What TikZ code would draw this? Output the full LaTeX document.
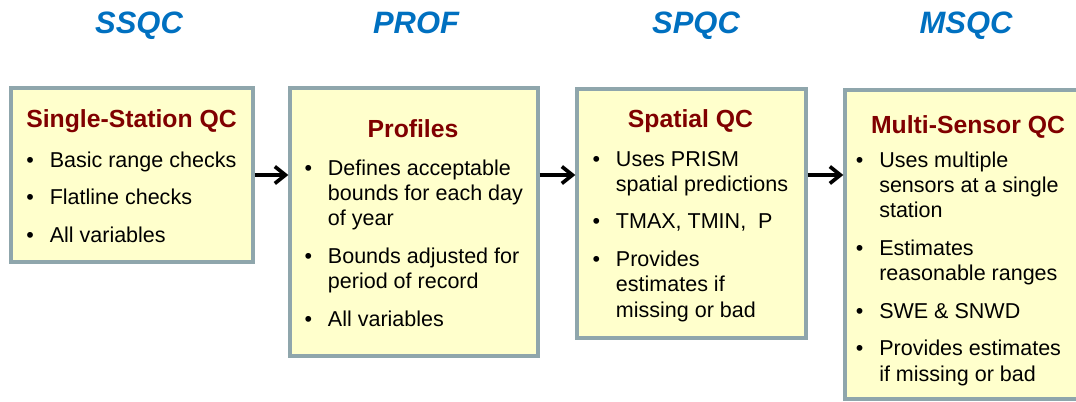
\documentclass[tikz,border=0pt]{standalone}
\usepackage{fontspec}
\setmainfont{Liberation Sans}
\usetikzlibrary{arrows.meta,fit}

\definecolor{qcfill}{RGB}{255,255,204}
\definecolor{qcline}{RGB}{143,166,172}
\definecolor{qctitle}{RGB}{128,0,0}
\definecolor{qchead}{RGB}{0,112,192}

\newcommand{\gap}{\\[8.7pt]}

\begin{document}
\begin{tikzpicture}[x=0.025cm, y=-0.025cm,
  qcbox/.style={draw=qcline, line width=2.4pt, fill=qcfill, inner sep=0pt},
  head/.style={font=\fontsize{22pt}{26pt}\selectfont\bfseries\itshape, text=qchead, anchor=base},
  title/.style={font=\fontsize{17.6pt}{21pt}\selectfont\bfseries, text=qctitle, anchor=base},
  blist/.style={font=\fontsize{15.3pt}{18pt}\selectfont, anchor=base west, inner sep=0pt},
  flow/.style={-{Straight Barb[length=7.5pt,width=12pt]}, line width=2.6pt}]
\useasboundingbox (0,0) rectangle (1076,401);

% short names on top
\node[head] (ss-h) at (139,33) {SSQC};
\node[head] (pf-h) at (416,33) {PROF};
\node[head] (sp-h) at (696,33) {SPQC};
\node[head] (ms-h) at (966,33) {MSQC};

% the four stages
\node[qcbox, fit={(11,88) (253,262)}] (ss) {};
\node[qcbox, fit={(290,88) (538,356)}] (pf) {};
\node[qcbox, fit={(577,89) (806,338)}] (sp) {};
\node[qcbox, fit={(845,90) (1090,399)}] (ms) {};

\draw[flow] (ss.east) -- (ss.east -| pf.west);
\draw[flow] (ss.east -| pf.east) -- (ss.east -| sp.west);
\draw[flow] (ss.east -| sp.east) -- (ss.east -| ms.west);

\node[title] (ss-t) at (131.5,127) {Single-Station QC};
\node[title] (pf-t) at (413,137) {Profiles};
\node[title] (sp-t) at (690.5,127) {Spatial QC};
\node[title] (ms-t) at (968,133) {Multi-Sensor QC};

\node[blist] (ss-l) at (26.2,167) {\begin{tabular}[t]{@{}c@{\hspace{11.2pt}}l@{}}
  \textbullet & Basic range checks\gap
  \textbullet & Flatline checks\gap
  \textbullet & All variables
\end{tabular}};
\node[blist] (pf-l) at (304.4,175) {\begin{tabular}[t]{@{}c@{\hspace{11.2pt}}l@{}}
  \textbullet & Defines acceptable\\
              & bounds for each day\\
              & of year\gap
  \textbullet & Bounds adjusted for\\
              & period of record\gap
  \textbullet & All variables
\end{tabular}};
\node[blist] (sp-l) at (592.4,166) {\begin{tabular}[t]{@{}c@{\hspace{11.2pt}}l@{}}
  \textbullet & Uses PRISM\\
              & spatial predictions\gap
  \textbullet & TMAX, TMIN,\ \ P\gap
  \textbullet & Provides\\
              & estimates if\\
              & missing or bad
\end{tabular}};
\node[blist] (ms-l) at (855.7,167.3) {\begin{tabular}[t]{@{}c@{\hspace{11.2pt}}l@{}}
  \textbullet & Uses multiple\\
              & sensors at a single\\
              & station\gap
  \textbullet & Estimates\\
              & reasonable ranges\gap
  \textbullet & SWE \& SNWD\gap
  \textbullet & Provides estimates\\
              & if missing or bad
\end{tabular}};
\end{tikzpicture}
\end{document}
